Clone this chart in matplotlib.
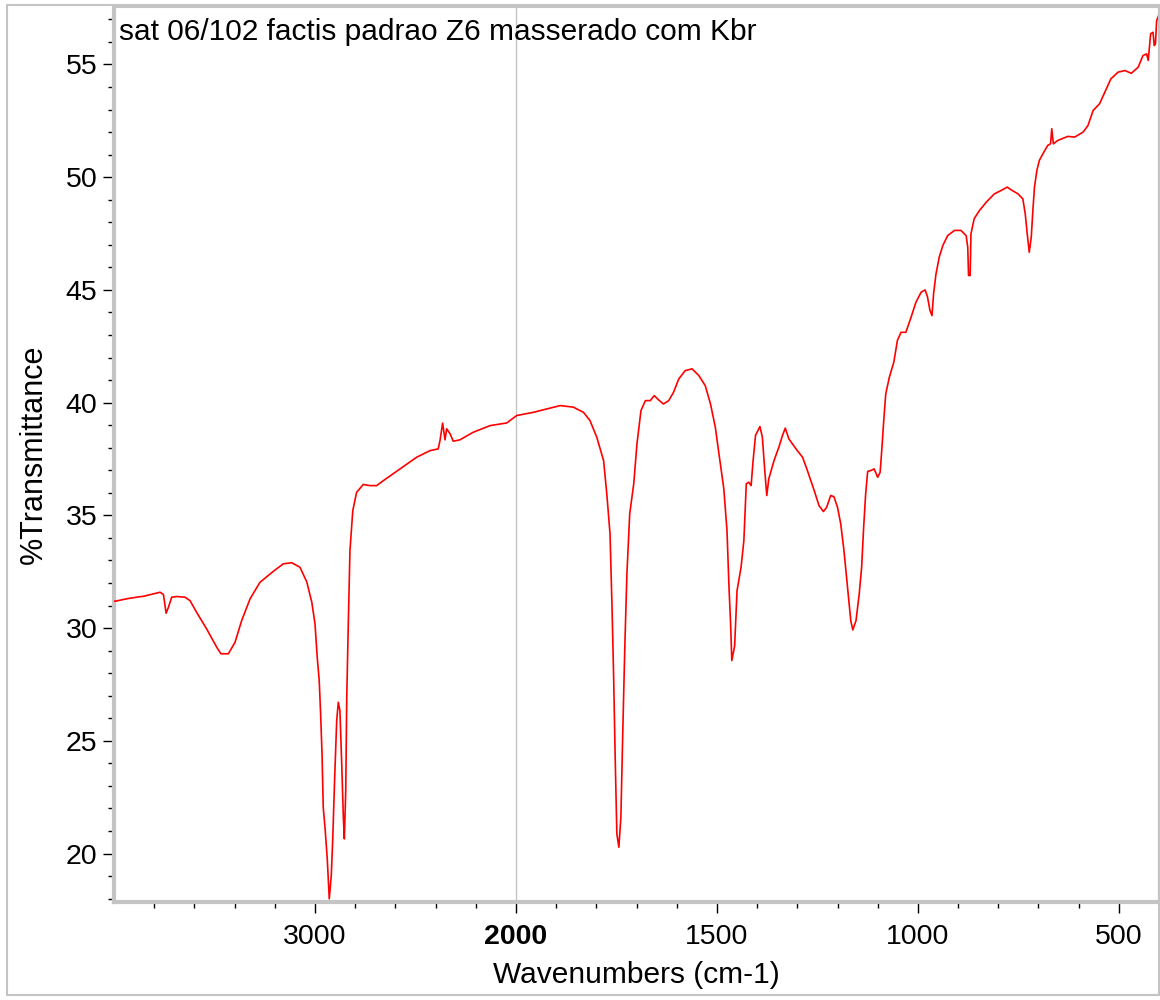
import numpy as np
import matplotlib
matplotlib.use("Agg")
import matplotlib.pyplot as plt
from matplotlib.patches import Rectangle
from matplotlib.ticker import FixedLocator

plt.rcParams['font.family'] = ['Liberation Sans', 'DejaVu Sans']

title = "sat 06/102 factis padrao Z6 masserado com Kbr"

# spectrum (cm-1, %T)
wavenumber = [4000, 3995, 3937, 3880, 3854, 3804, 3771, 3754, 3741, 3729, 3713, 3688,
              3647, 3622, 3589, 3539, 3489, 3468, 3431, 3398, 3365, 3323, 3274, 3207,
              3158, 3116, 3075, 3041, 3016, 3000, 2989, 2979, 2972, 2965, 2959, 2949,
              2939, 2929, 2919, 2912, 2902, 2892, 2884, 2876, 2867, 2859, 2854, 2847,
              2842, 2834, 2826, 2812, 2793, 2760, 2726, 2693, 2660, 2577, 2494, 2428,
              2387, 2378, 2365, 2353, 2345, 2328, 2312, 2279, 2212, 2129, 2046, 1998,
              1957, 1923, 1890, 1857, 1832, 1816, 1799, 1782, 1774, 1766, 1761, 1757,
              1753, 1749, 1744, 1739, 1734, 1729, 1724, 1717, 1707, 1699, 1689, 1678,
              1666, 1656, 1645, 1633, 1620, 1608, 1595, 1579, 1562, 1545, 1529, 1516,
              1504, 1495, 1483, 1475, 1470, 1466, 1463, 1456, 1450, 1440, 1433, 1427,
              1421, 1415, 1410, 1404, 1393, 1387, 1381, 1376, 1371, 1358, 1346, 1337,
              1330, 1321, 1300, 1287, 1275, 1258, 1246, 1235, 1227, 1217, 1209, 1200,
              1192, 1184, 1175, 1167, 1162, 1154, 1146, 1140, 1135, 1130, 1125, 1117,
              1109, 1100, 1094, 1090, 1085, 1080, 1071, 1060, 1051, 1042, 1030, 1017,
              1005, 992, 982, 976, 970, 965, 961, 955, 947, 938, 926, 909,
              893, 880, 876, 874, 870, 868, 860, 847, 830, 810, 793, 778,
              768, 751, 739, 733, 728, 723, 718, 714, 710, 704, 698, 689,
              677, 670, 667, 663, 652, 627, 610, 589, 577, 564, 548, 535,
              520, 502, 485, 469, 452, 440, 431, 427, 421, 415, 412, 409,
              406, 401, 400]
transmittance = [31.20, 31.19, 31.30, 31.38, 31.41, 31.52, 31.59, 31.49, 30.66, 30.93, 31.37, 31.40,
                 31.37, 31.22, 30.70, 29.96, 29.15, 28.86, 28.86, 29.37, 30.33, 31.30, 32.03, 32.52,
                 32.85, 32.90, 32.70, 32.05, 31.15, 30.19, 28.71, 27.67, 26.19, 24.42, 22.05, 21.02,
                 19.76, 17.99, 19.02, 20.57, 23.38, 25.90, 26.71, 26.34, 23.97, 21.61, 20.65, 22.79,
                 26.93, 30.33, 33.44, 35.21, 36.02, 36.37, 36.32, 36.32, 36.54, 37.06, 37.58, 37.87,
                 37.95, 38.32, 39.09, 38.35, 38.84, 38.62, 38.29, 38.35, 38.69, 38.98, 39.10, 39.43,
                 39.57, 39.72, 39.87, 39.80, 39.57, 39.21, 38.47, 37.43, 35.95, 34.18, 30.92, 27.82,
                 24.12, 20.87, 20.28, 21.61, 25.60, 29.30, 32.40, 35.07, 36.40, 38.17, 39.65, 40.09,
                 40.09, 40.31, 40.12, 39.94, 40.09, 40.46, 41.05, 41.42, 41.50, 41.20, 40.75, 39.94,
                 38.91, 37.73, 36.20, 34.33, 31.81, 30.19, 28.56, 29.20, 31.66, 32.70, 33.88, 36.40,
                 36.47, 36.32, 37.43, 38.55, 38.94, 38.47, 36.99, 35.88, 36.62, 37.43, 38.02, 38.54,
                 38.87, 38.39, 37.87, 37.58, 36.99, 36.10, 35.43, 35.17, 35.36, 35.88, 35.83, 35.36,
                 34.62, 33.44, 31.81, 30.33, 29.92, 30.33, 31.52, 32.70, 34.47, 35.95, 36.95, 36.99,
                 37.06, 36.69, 36.91, 37.87, 39.21, 40.39, 41.13, 41.79, 42.76, 43.12, 43.12, 43.79,
                 44.45, 44.90, 45.00, 44.68, 44.09, 43.86, 44.83, 45.71, 46.45, 46.97, 47.41, 47.64,
                 47.64, 47.41, 46.89, 45.64, 45.64, 47.49, 48.16, 48.52, 48.89, 49.26, 49.41, 49.56,
                 49.44, 49.26, 49.04, 48.38, 47.49, 46.67, 47.34, 48.52, 49.56, 50.30, 50.74, 51.04,
                 51.41, 51.48, 52.15, 51.48, 51.63, 51.81, 51.78, 52.00, 52.29, 52.96, 53.26, 53.77,
                 54.36, 54.66, 54.73, 54.61, 54.88, 55.40, 55.47, 55.18, 56.36, 56.43, 55.84, 55.92,
                 56.95, 57.17, 57.45]

x_major = [3000, 2000, 1500, 1000, 500]
x_minor = [3800, 3600, 3400, 3200, 2800, 2600, 2400, 2200] + \
          [w for w in range(1900, 399, -100) if w not in x_major]
y_major = [20, 25, 30, 35, 40, 45, 50, 55]
y_minor = list(range(18, 58))


# above 2000 cm-1 the axis is compressed by half
def fwd(w):
    w = np.asarray(w, dtype=float)
    return np.where(w > 2000, 2000 + (w - 2000) / 2, w)


def inv(u):
    u = np.asarray(u, dtype=float)
    return np.where(u > 2000, 2000 + (u - 2000) * 2, u)


fig = plt.figure(figsize=(11.6, 10), dpi=100)
ax = fig.add_axes([0.0983, 0.098, 0.9009, 0.895])

gray = "#c4c4c4"
fig.patches.append(Rectangle((0.006, 0.005), 0.993, 0.99, transform=fig.transFigure,
                             fill=False, edgecolor=gray, linewidth=1.5))

ax.set_xscale("function", functions=(fwd, inv))
ax.axvline(2000, color=gray, linewidth=1.0, zorder=1)
ax.plot(wavenumber, transmittance, color="red", linewidth=1.2, zorder=3)

ax.set_xlim(4000, 400)
ax.set_ylim(17.85, 57.55)

ax.xaxis.set_major_locator(FixedLocator(x_major))
ax.xaxis.set_minor_locator(FixedLocator(x_minor))
ax.set_xticklabels([str(v) for v in x_major])
ax.yaxis.set_major_locator(FixedLocator(y_major))
ax.yaxis.set_minor_locator(FixedLocator(y_minor))
ax.set_yticklabels([str(v) for v in y_major])
for lab in ax.get_xticklabels():
    if lab.get_text() == "2000":
        lab.set_fontweight("bold")

ax.tick_params(which="major", direction="out", length=8, width=1.0, labelsize=20.5, pad=4)
ax.tick_params(axis="x", which="major", pad=8)
ax.tick_params(which="minor", direction="out", length=4.5, width=1.0)

for side in ["left", "bottom"]:
    ax.spines[side].set_color(gray)
    ax.spines[side].set_linewidth(3)
for side in ["top", "right"]:
    ax.spines[side].set_color(gray)
    ax.spines[side].set_linewidth(1.5)

ax.set_xlabel("Wavenumbers (cm-1)", fontsize=21.5, labelpad=8)
ax.set_ylabel("%Transmittance", fontsize=22, labelpad=12)

ax.text(0.005, 0.988, title, transform=ax.transAxes, ha="left", va="top", fontsize=21.5)

fig.savefig("out.png", dpi=100)
